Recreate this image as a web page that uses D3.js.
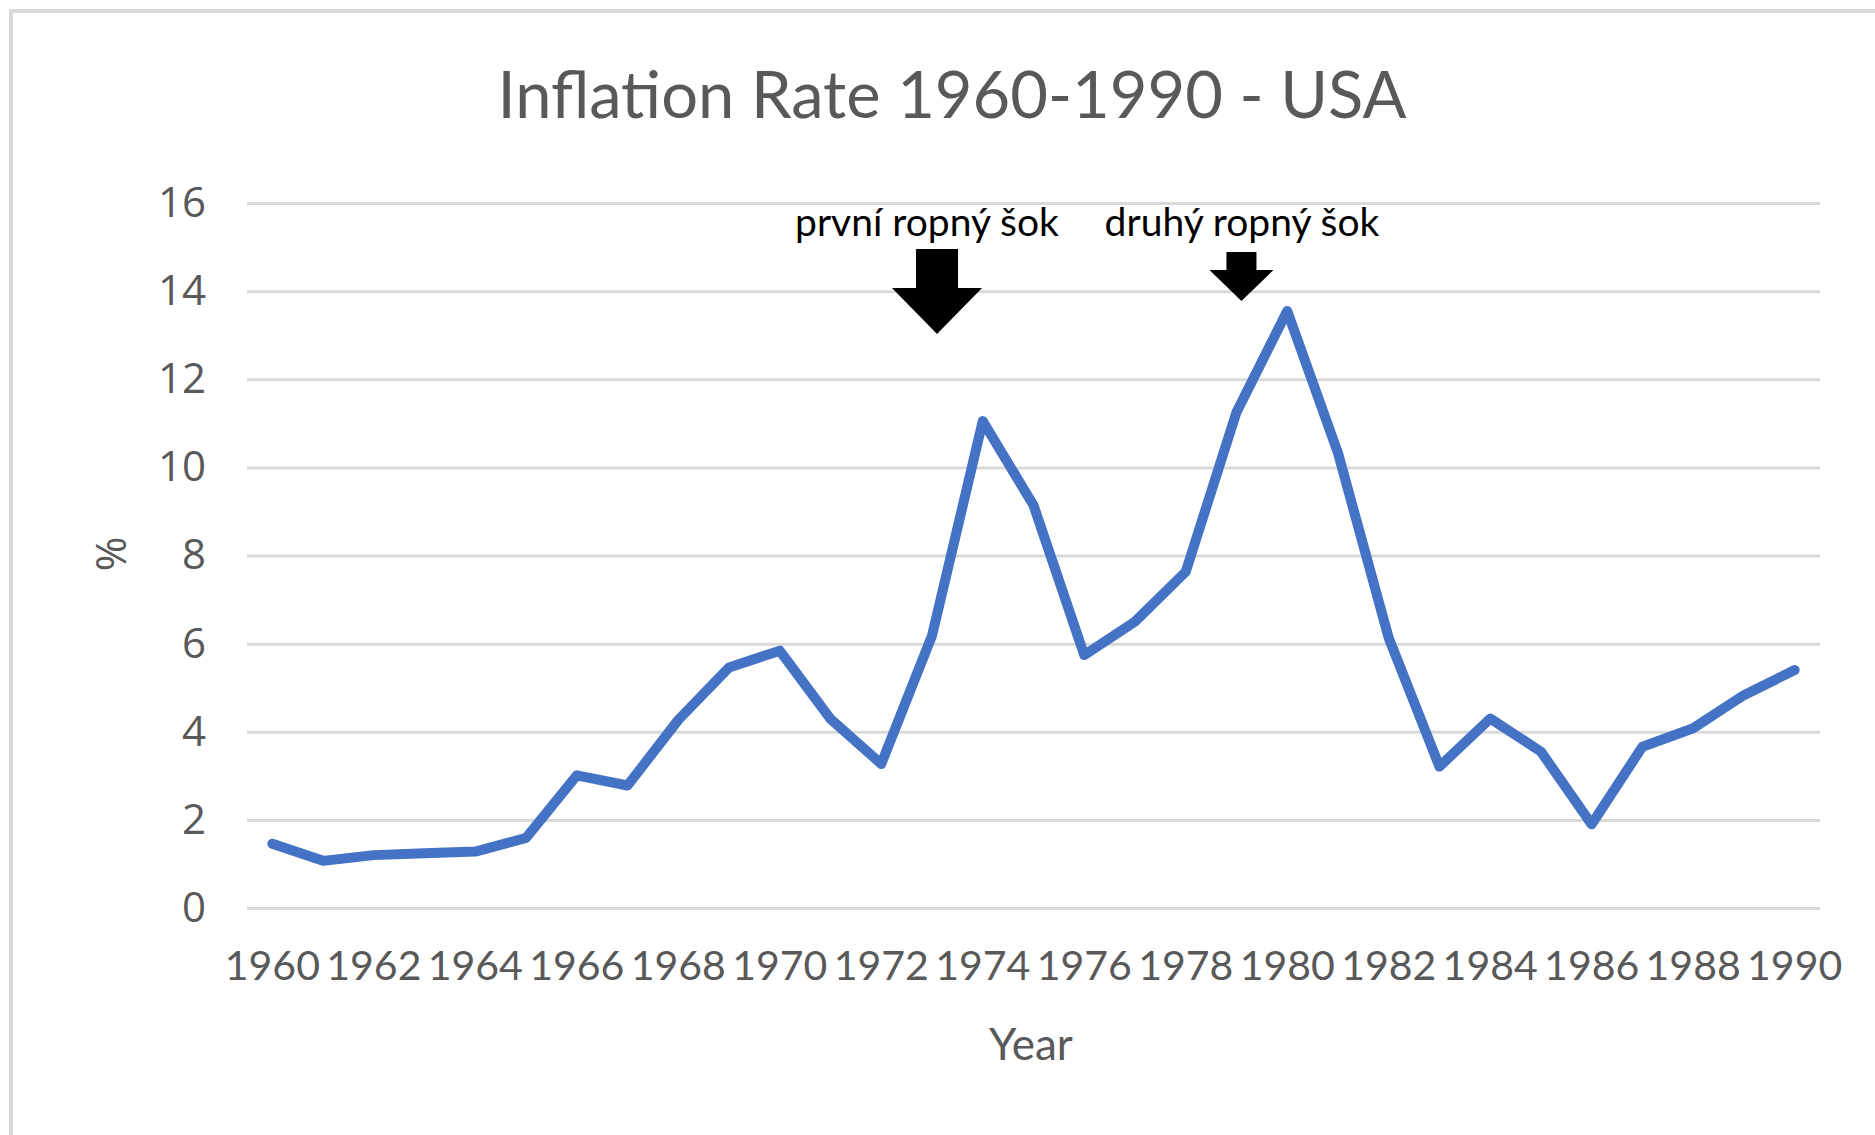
<!DOCTYPE html>
<html>
<head>
<meta charset="utf-8">
<script src="https://cdn.jsdelivr.net/npm/d3@7"></script>
<style>
  body { margin: 0; background: #fff; }
  .narrow { font-family: "Lato", sans-serif; }
  .wide { font-family: "Open Sans", sans-serif; }
</style>
</head>
<body>
<div id="chart"></div>
<script>
// data
const years = d3.range(1960, 1991);
const inflation = [1.46, 1.07, 1.20, 1.24, 1.28, 1.59, 3.01, 2.78, 4.27, 5.46,
                   5.84, 4.29, 3.27, 6.18, 11.05, 9.14, 5.74, 6.50, 7.63, 11.25,
                   13.55, 10.33, 6.13, 3.21, 4.30, 3.55, 1.90, 3.66, 4.08, 4.83, 5.40];
const yTicks = [0, 2, 4, 6, 8, 10, 12, 14, 16];
const notes = ["první ropný šok", "druhý ropný šok"];
const noteYears = [1973, 1979];

const svgWidth = 1875;
const svgHeight = 1135;

const margin = { top: 203, right: 55, bottom: 227, left: 247 };
const chartWidth = svgWidth - margin.left - margin.right;
const chartHeight = svgHeight - margin.top - margin.bottom;

const svg = d3.select("#chart").append("svg")
    .attr("width", svgWidth)
    .attr("height", svgHeight);

// border of the chart area (only top and left visible)
svg.append("path")
    .attr("d", `M11,${svgHeight + 5} V11 H${svgWidth + 5}`)
    .attr("fill", "none")
    .attr("stroke", "#d9d9d9")
    .attr("stroke-width", 4);

const chartG = svg.append("g")
    .attr("transform", `translate(${margin.left}, ${margin.top})`);

const x = d3.scaleBand()
    .domain(years)
    .range([0, chartWidth]);

const y = d3.scaleLinear()
    .domain([0, 16])
    .range([chartHeight, 0]);

// gridlines + y labels
const yAxis = d3.axisLeft(y)
    .tickValues(yTicks)
    .tickSize(-chartWidth)
    .tickPadding(41);

chartG.append("g")
    .attr("class", "wide")
    .call(yAxis)
    .call(g => g.select(".domain").remove())
    .call(g => g.selectAll(".tick line")
        .attr("stroke", "#d9d9d9")
        .attr("stroke-width", 3))
    .call(g => g.selectAll(".tick text")
        .attr("fill", "#595959")
        .attr("font-size", 42));

// x labels, every second year
const xAxis = d3.axisBottom(x)
    .tickValues(years.filter(d => d % 2 === 0))
    .tickSize(0)
    .tickPadding(43);

chartG.append("g")
    .attr("class", "narrow")
    .attr("transform", `translate(0, ${chartHeight})`)
    .call(xAxis)
    .call(g => g.select(".domain").remove())
    .call(g => g.selectAll(".tick text")
        .attr("fill", "#595959")
        .attr("font-size", 41));

// the inflation line
const line = d3.line()
    .x((d, i) => x(years[i]) + x.bandwidth() / 2)
    .y(d => y(d));

chartG.append("path")
    .datum(inflation)
    .attr("fill", "none")
    .attr("stroke", "#4472c4")
    .attr("stroke-width", 10)
    .attr("stroke-linejoin", "round")
    .attr("stroke-linecap", "round")
    .attr("d", line);

// title and axis titles
svg.append("text")
    .attr("class", "narrow")
    .attr("x", 952)
    .attr("y", 118)
    .attr("text-anchor", "middle")
    .attr("fill", "#595959")
    .attr("font-size", 65)
    .text("Inflation Rate 1960-1990 - USA");

svg.append("text")
    .attr("class", "narrow")
    .attr("x", 1031)
    .attr("y", 1060)
    .attr("text-anchor", "middle")
    .attr("fill", "#595959")
    .attr("font-size", 44)
    .text("Year");

svg.append("text")
    .attr("class", "wide")
    .attr("transform", "translate(126, 554) rotate(-90)")
    .attr("text-anchor", "middle")
    .attr("fill", "#595959")
    .attr("font-size", 42)
    .text("%");

// oil shock notes with block arrows
const arrows = [
    { shaft: 21, head: 45, top: 249, neck: 288, tip: 334 },
    { shaft: 15, head: 32, top: 252, neck: 270, tip: 301 }
];
const noteX = [927, 1242];

notes.forEach((t, i) => {
    svg.append("text")
        .attr("class", "narrow")
        .attr("x", noteX[i])
        .attr("y", 236)
        .attr("text-anchor", "middle")
        .attr("fill", "#000")
        .attr("font-size", 39)
        .text(t);

    const a = arrows[i];
    const cx = margin.left + x(noteYears[i]) + x.bandwidth() / 2 + 5;
    svg.append("path")
        .attr("d", `M${cx - a.shaft},${a.top} H${cx + a.shaft} V${a.neck} H${cx + a.head}
                    L${cx},${a.tip} L${cx - a.head},${a.neck} H${cx - a.shaft} Z`)
        .attr("fill", "#000");
});
</script>
</body>
</html>
